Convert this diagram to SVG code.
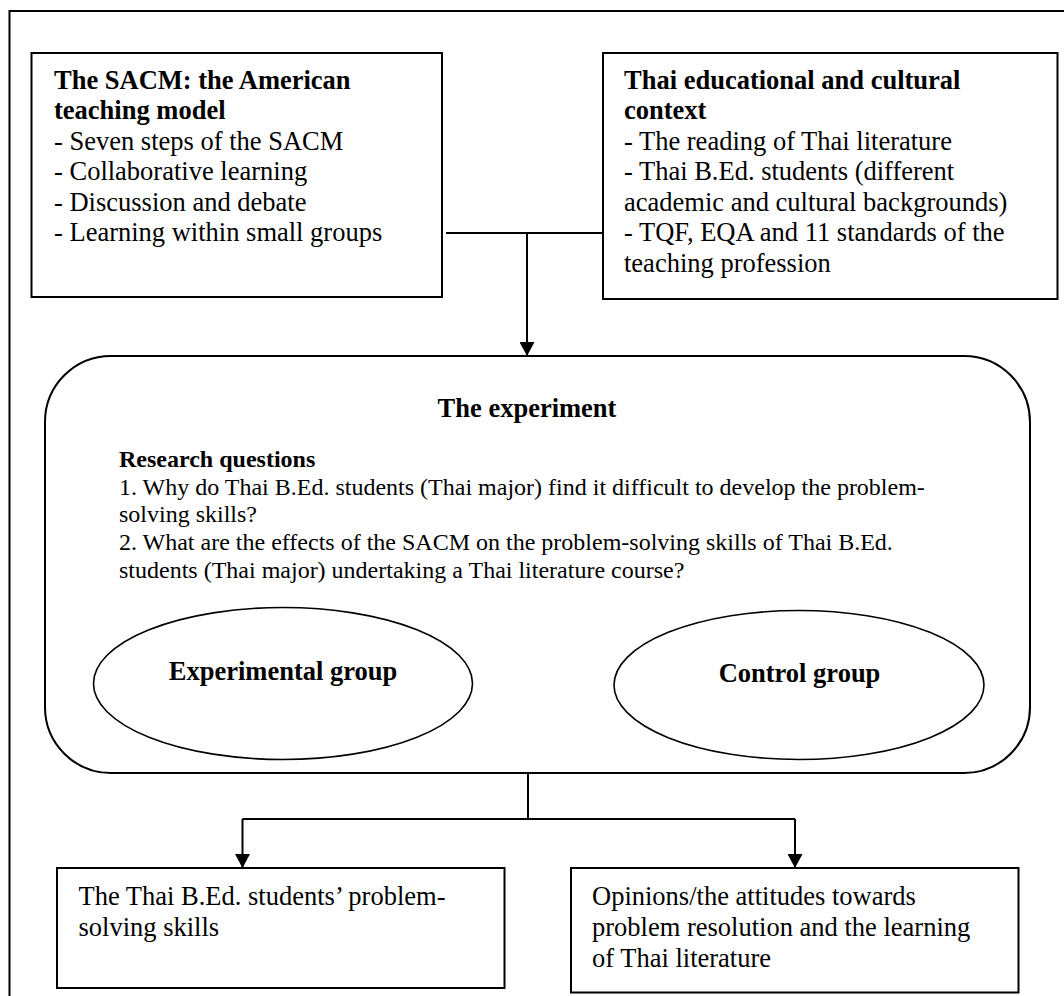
<svg xmlns="http://www.w3.org/2000/svg" width="1064" height="996" viewBox="0 0 1064 996">
  <style>
    text { font-family: "Liberation Serif", "Times New Roman", serif; fill: #000; }
    .t { font-size: 26.5px; }
    .b { font-weight: bold; }
    .q { font-size: 24px; }
    .box { fill: #fff; stroke: #000; stroke-width: 2; }
    .oval { fill: #fff; stroke: #000; stroke-width: 1.6; }
    .wire { fill: none; stroke: #000; stroke-width: 2; }
  </style>
  <defs>
    <marker id="arrow" viewBox="0 0 14 15" refX="14" refY="7.5" markerWidth="14" markerHeight="15" orient="auto" markerUnits="userSpaceOnUse">
      <path d="M0,0 L14,7.5 L0,15 z" fill="#000"/>
    </marker>
  </defs>

  <rect width="1064" height="996" fill="#fff"/>

  <!-- outer frame -->
  <path class="wire" d="M9.5,996 V11 H1064"/>

  <!-- inputs -->
  <g id="sacm">
    <rect class="box" x="31.5" y="53" width="410.5" height="244"/>
    <text class="t b" x="54" y="89">The SACM: the American</text>
    <text class="t b" x="54" y="119">teaching model</text>
    <text class="t" x="54" y="149.5">- Seven steps of the SACM</text>
    <text class="t" x="54" y="180">- Collaborative learning</text>
    <text class="t" x="54" y="210.5">- Discussion and debate</text>
    <text class="t" x="54" y="241">- Learning within small groups</text>
  </g>

  <g id="context">
    <rect class="box" x="603" y="53" width="454.5" height="246"/>
    <text class="t b" x="624" y="89">Thai educational and cultural</text>
    <text class="t b" x="624" y="119">context</text>
    <text class="t" x="624" y="149.5">- The reading of Thai literature</text>
    <text class="t" x="624" y="180">- Thai B.Ed. students (different</text>
    <text class="t" x="624" y="210.5">academic and cultural backgrounds)</text>
    <text class="t" x="624" y="241">- TQF, EQA and 11 standards of the</text>
    <text class="t" x="624" y="271.5">teaching profession</text>
  </g>

  <!-- experiment -->
  <g id="experiment">
    <rect class="box" x="45" y="356" width="985" height="417" rx="66" ry="66"/>
    <text class="t b" x="527" y="417" text-anchor="middle">The experiment</text>
    <text class="q b" x="119" y="467">Research questions</text>
    <text class="q" x="119" y="495">1. Why do Thai B.Ed. students (Thai major) find it difficult to develop the problem-</text>
    <text class="q" x="119" y="522">solving skills?</text>
    <text class="q" x="119" y="550">2. What are the effects of the SACM on the problem-solving skills of Thai B.Ed.</text>
    <text class="q" x="119" y="578">students (Thai major) undertaking a Thai literature course?</text>
  </g>

  <g id="experimental-group">
    <ellipse class="oval" cx="283" cy="683.5" rx="189.5" ry="76"/>
    <text class="t b" x="283" y="679.5" text-anchor="middle">Experimental group</text>
  </g>

  <g id="control-group">
    <ellipse class="oval" cx="799" cy="685" rx="185" ry="74.5"/>
    <text class="t b" x="799.5" y="682" text-anchor="middle">Control group</text>
  </g>

  <!-- outcomes -->
  <g id="skills">
    <rect class="box" x="57" y="868" width="447.5" height="120"/>
    <text class="t" x="78.5" y="905">The Thai B.Ed. students’ problem-</text>
    <text class="t" x="78.5" y="935.5">solving skills</text>
  </g>

  <g id="opinions">
    <rect class="box" x="571" y="868" width="447.5" height="124.5"/>
    <text class="t" x="592" y="905">Opinions/the attitudes towards</text>
    <text class="t" x="592" y="936">problem resolution and the learning</text>
    <text class="t" x="592" y="967">of Thai literature</text>
  </g>

  <!-- connectors -->
  <g id="connectors">
    <path class="wire" d="M446,233 H602"/>
    <path class="wire" d="M527,233 V356" marker-end="url(#arrow)"/>
    <path class="wire" d="M528,773 V819"/>
    <path class="wire" d="M242.5,819 H795"/>
    <path class="wire" d="M242.5,819 V868" marker-end="url(#arrow)"/>
    <path class="wire" d="M795,819 V868" marker-end="url(#arrow)"/>
  </g>
</svg>
